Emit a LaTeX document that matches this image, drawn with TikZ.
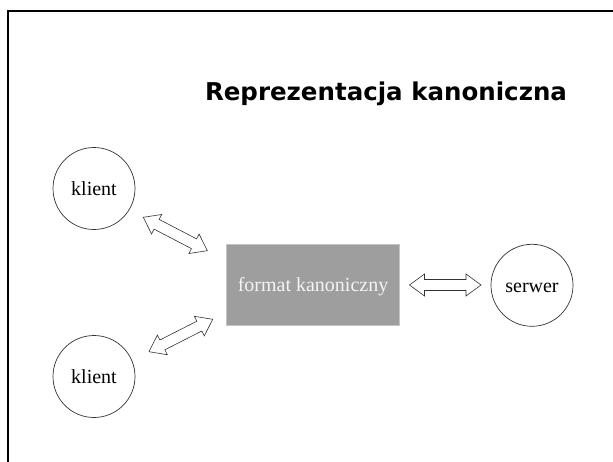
\documentclass[tikz,border=0pt]{standalone}
\usepackage{fontspec}
\setmainfont{Liberation Serif}
\newfontfamily\titlefont{DejaVu Sans}
\usetikzlibrary{calc}
\definecolor{boxgray}{HTML}{9E9E9E}
\definecolor{boxedge}{HTML}{C4C4C4}
\definecolor{boxtext}{HTML}{F4F4F4}
\definecolor{inkgray}{HTML}{333333}
\tikzset{
  peer/.style={circle, draw=inkgray, line width=0.7pt, minimum size=82pt, inner sep=0pt,
    font=\fontsize{20}{24}\selectfont, text height=13.6pt, text depth=0pt},
  canon/.style={rectangle, fill=boxgray, draw=boxedge, line width=0.8pt,
    minimum width=172.6pt, minimum height=81.7pt, inner sep=0pt, text=boxtext,
    font=\fontsize{20}{24}\selectfont, text height=13.6pt, text depth=0pt},
  barrow/.style={draw=inkgray, fill=white, line width=0.6pt, line join=miter},
  frame/.style={line width=2pt, black},
}
\newcommand\blockarrow[2]{%
  \draw[barrow] (#1)
    -- ($(#1)!15pt!(#2)!11pt!90:(#2)$)
    -- ($(#1)!15pt!(#2)!5.5pt!90:(#2)$)
    -- ($(#2)!15pt!(#1)!5.5pt!-90:(#1)$)
    -- ($(#2)!15pt!(#1)!11pt!-90:(#1)$)
    -- (#2)
    -- ($(#2)!15pt!(#1)!11pt!90:(#1)$)
    -- ($(#2)!15pt!(#1)!5.5pt!90:(#1)$)
    -- ($(#1)!15pt!(#2)!5.5pt!-90:(#2)$)
    -- ($(#1)!15pt!(#2)!11pt!-90:(#2)$)
    -- cycle;}
\begin{document}
\begin{tikzpicture}[x=1pt, y=-1pt]
  \useasboundingbox (0,0) rectangle (613,461);
  % frame
  \draw[frame] (8,480) -- (8,11.3) -- (630,11.3);
  % title
  \node[anchor=base, inner sep=0pt, font=\titlefont\bfseries\fontsize{24.5}{29}\selectfont] (title) at (386,100.7) {Reprezentacja kanoniczna};
  % nodes
  \node[peer] (k1) at (94,188.5) {klient};
  \node[peer] (k2) at (94,376.5) {klient};
  \node[canon] (fmt) at (313,284.8) {format kanoniczny};
  \node[peer] (srv) at (532,285.3) {serwer};
  % arrow end points
  \coordinate (a1s) at (143.3,217.3);
  \coordinate (a1e) at (207.3,250.7);
  \coordinate (a2s) at (149,351.7);
  \coordinate (a2e) at (212.7,319.3);
  \coordinate (a3s) at (409.5,285);
  \coordinate (a3e) at (481,285);
  \blockarrow{a1s}{a1e}
  \blockarrow{a2s}{a2e}
  \blockarrow{a3s}{a3e}
\end{tikzpicture}
\end{document}
